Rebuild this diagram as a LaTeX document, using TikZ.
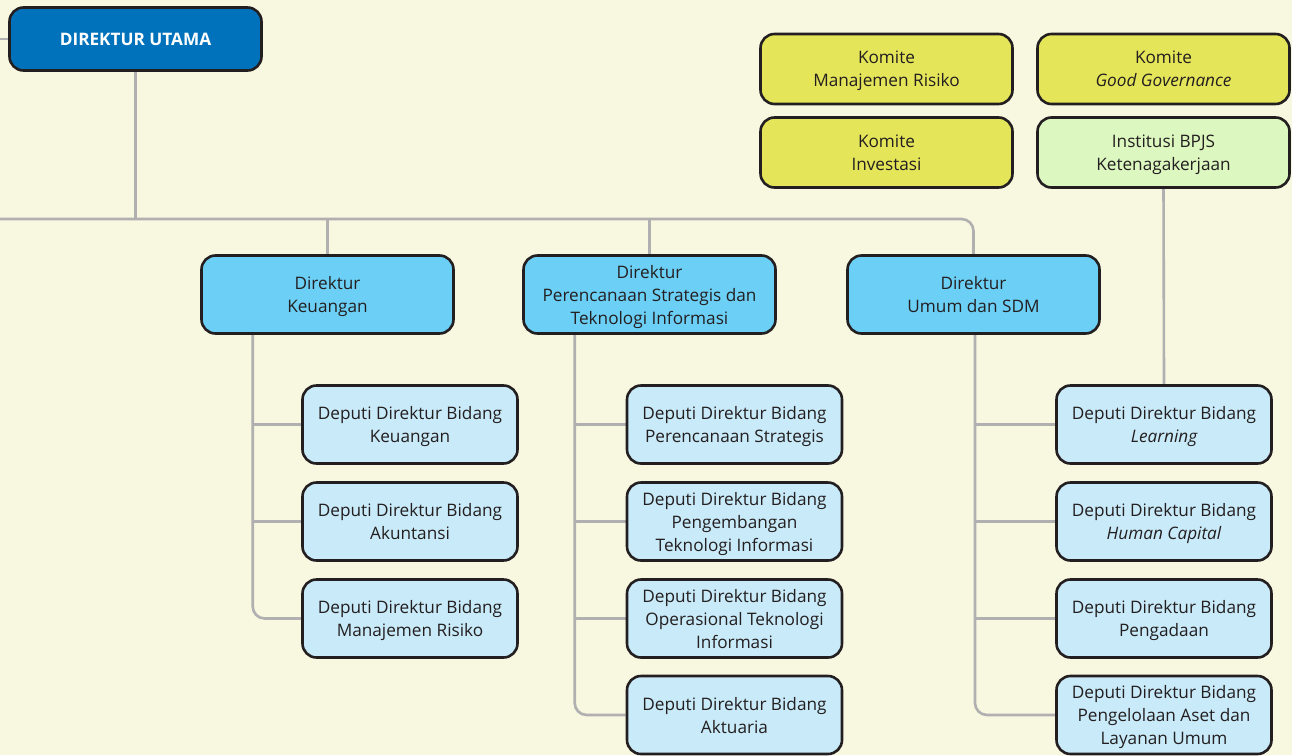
\documentclass[tikz,border=0pt]{standalone}
\usepackage{fontspec}
\setmainfont{Open Sans}
\usetikzlibrary{backgrounds}
\definecolor{bg}{RGB}{248,247,224}
\definecolor{ink}{RGB}{35,31,32}
\definecolor{utama}{RGB}{0,114,188}
\definecolor{dirc}{RGB}{108,207,246}
\definecolor{depc}{RGB}{201,234,248}
\definecolor{komc}{RGB}{229,229,90}
\definecolor{instc}{RGB}{221,247,192}
\definecolor{wire}{RGB}{176,176,176}
\begin{document}
\begin{tikzpicture}[x=1pt,y=-1pt,
    box/.style={draw=ink,line width=2.6pt,rounded corners=14pt,align=center,
        text=ink,font=\fontsize{17.2}{23}\selectfont,inner sep=0pt,text depth=0pt},
    top/.style={box,fill=utama,text=white,minimum width=252pt,minimum height=63pt,
        font=\fontsize{17.2}{23}\selectfont\bfseries},
    dir/.style={box,fill=dirc,minimum width=252pt,minimum height=78pt},
    dep/.style={box,fill=depc,minimum width=215pt,minimum height=78pt},
    kom/.style={box,fill=komc,minimum width=252pt,minimum height=70pt},
    inst/.style={box,fill=instc,minimum width=252pt,minimum height=70pt},
    wire/.style={draw=wire,line width=2.6pt}]
    \useasboundingbox (0,0) rectangle (1292,755);
    % direktur utama
    \node[top] (DU) at (135.5,39) {DIREKTUR UTAMA};
    \coordinate (inL) at (0,39);
    \coordinate (busL) at (0,219);
    % komite
    \node[kom] (K_1) at (886.5,69) {Komite\\Manajemen Risiko};
    \node[kom] (K_2) at (1163.5,69) {Komite\\\itshape Good Governance};
    \node[kom] (K_3) at (886.5,152.5) {Komite\\Investasi};
    \node[inst] (IB) at (1163.5,152.5) {Institusi BPJS\\Ketenagakerjaan};
    % direktur
    \node[dir] (DK) at (327.5,294.5) {Direktur\\Keuangan};
    \node[dir] (DP) at (649.5,294.5) {Direktur\\Perencanaan Strategis dan\\Teknologi Informasi};
    \node[dir] (DS) at (973.5,294.5) {Direktur\\Umum dan SDM};
    \coordinate (sK) at ([xshift=52.5pt]DK.south west);
    \coordinate (sP) at ([xshift=52.5pt]DP.south west);
    \coordinate (sS) at ([xshift=1.5pt]DS.south);
    % deputi keuangan
    \node[dep] (DK_1) at (410,424.5) {Deputi Direktur Bidang\\Keuangan};
    \node[dep] (DK_2) at (410,521.5) {Deputi Direktur Bidang\\Akuntansi};
    \node[dep] (DK_3) at (410,618.5) {Deputi Direktur Bidang\\Manajemen Risiko};
    % deputi perencanaan
    \node[dep] (DP_1) at (734.5,424.5) {Deputi Direktur Bidang\\Perencanaan Strategis};
    \node[dep] (DP_2) at (734.5,521.5) {Deputi Direktur Bidang\\Pengembangan\\Teknologi Informasi};
    \node[dep] (DP_3) at (734.5,618.5) {Deputi Direktur Bidang\\Operasional Teknologi\\Informasi};
    \node[dep] (DP_4) at (734.5,715) {Deputi Direktur Bidang\\Aktuaria};
    % deputi umum
    \node[dep] (DS_1) at (1164,424.5) {Deputi Direktur Bidang\\\itshape Learning};
    \node[dep] (DS_2) at (1164,521.5) {Deputi Direktur Bidang\\\itshape Human Capital};
    \node[dep] (DS_3) at (1164,618.5) {Deputi Direktur Bidang\\Pengadaan};
    \node[dep] (DS_4) at (1164,715) {Deputi Direktur Bidang\\Pengelolaan Aset dan\\Layanan Umum};
    \begin{scope}[on background layer]
        \fill[bg] (0,0) rectangle (1292,755);
        \begin{scope}[wire]
            \draw (inL) -- (DU.west);
            \draw (DU.south) -- (DU.south |- busL);
            \draw[rounded corners=12pt] (busL) -| (DS.north);
            \draw (DK.north |- busL) -- (DK.north);
            \draw (DP.north |- busL) -- (DP.north);
            \draw (IB.south) -- (DS_1.north);
            % spines
            \draw[rounded corners=12pt] (sK) |- (DK_3.west);
            \foreach \n in {DK_1,DK_2}
                \draw (\n.west) -- (\n.west -| sK);
            \draw[rounded corners=12pt] (sP) |- (DP_4.west);
            \foreach \n in {DP_1,DP_2,DP_3}
                \draw (\n.west) -- (\n.west -| sP);
            \draw[rounded corners=12pt] (sS) |- (DS_4.west);
            \foreach \n in {DS_1,DS_2,DS_3}
                \draw (\n.west) -- (\n.west -| sS);
        \end{scope}
    \end{scope}
\end{tikzpicture}
\end{document}
